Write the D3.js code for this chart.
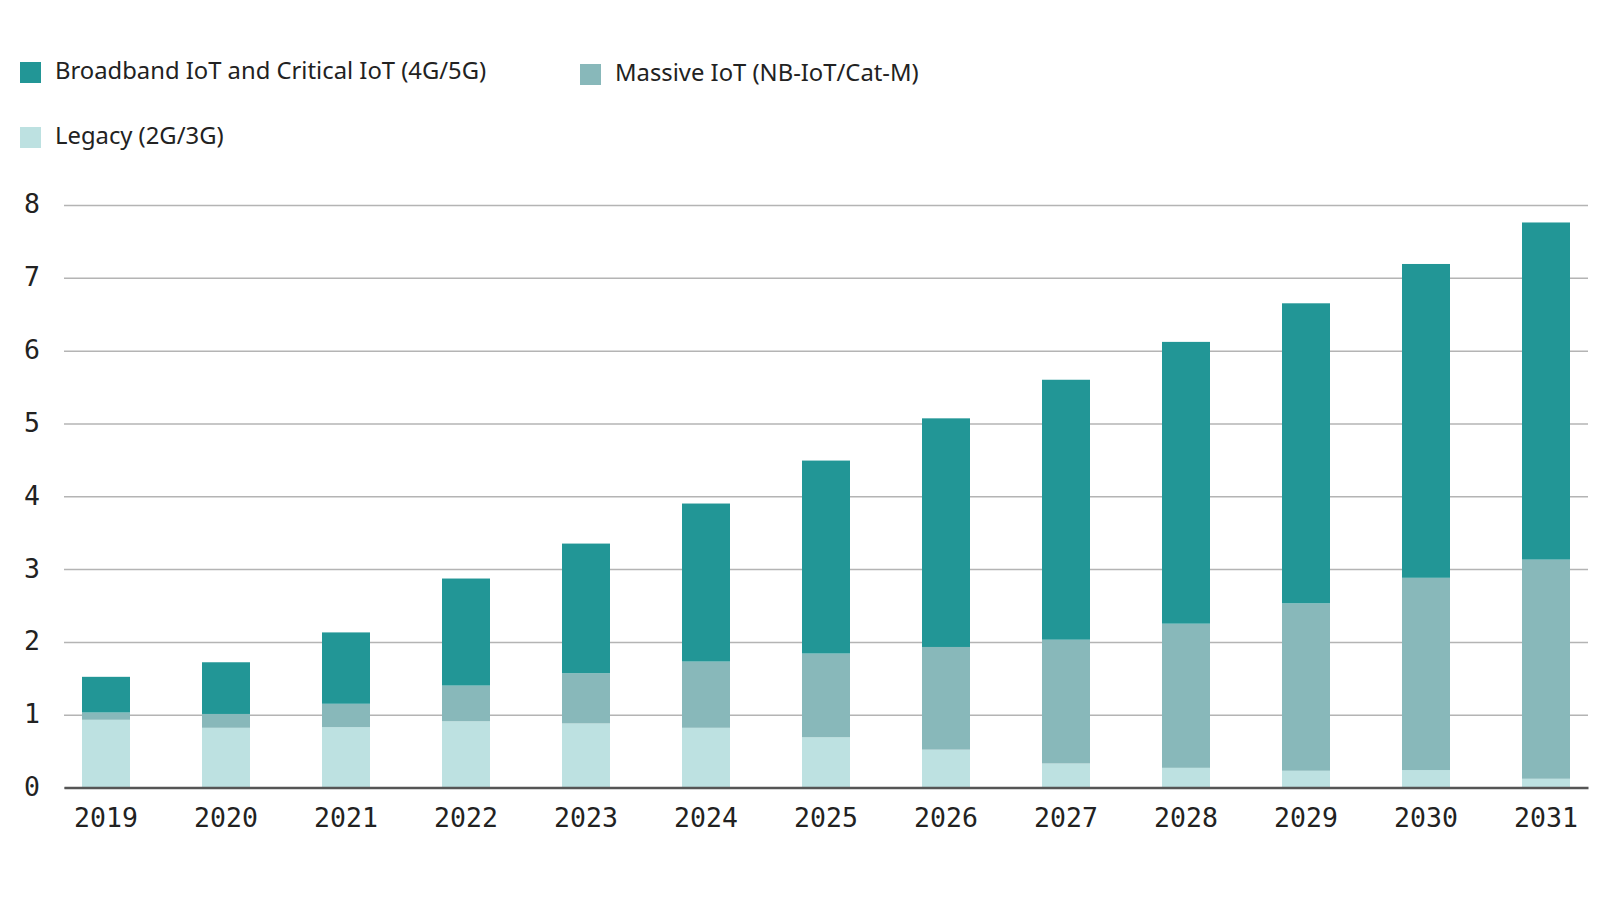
<!DOCTYPE html>
<html>
<head>
<meta charset="utf-8">
<script src="https://d3js.org/d3.v7.min.js"></script>
<style>
  body { margin: 0; background: #fff; }
  svg { display: block; }
</style>
</head>
<body>
<svg width="1600" height="900"></svg>
<script>
// IoT connections (billions)
var years = ["2019", "2020", "2021", "2022", "2023", "2024", "2025", "2026", "2027", "2028", "2029", "2030", "2031"];
var legacy    = [0.93, 0.82, 0.83, 0.91, 0.88, 0.82, 0.69, 0.52, 0.33, 0.27, 0.23, 0.24, 0.12];
var massive   = [0.10, 0.19, 0.32, 0.49, 0.69, 0.91, 1.15, 1.41, 1.70, 1.98, 2.30, 2.64, 3.01];
var broadband = [0.49, 0.71, 0.98, 1.47, 1.78, 2.17, 2.65, 3.14, 3.57, 3.87, 4.12, 4.31, 4.63];
var yTicks = [0, 1, 2, 3, 4, 5, 6, 7, 8];

var seriesNames = ["Legacy (2G/3G)", "Massive IoT (NB-IoT/Cat-M)", "Broadband IoT and Critical IoT (4G/5G)"];
var colors = {
  "Broadband IoT and Critical IoT (4G/5G)": "#229696",
  "Massive IoT (NB-IoT/Cat-M)": "#88b8ba",
  "Legacy (2G/3G)": "#bde1e1"
};

var table = years.map(function(y, i) {
  var row = { year: y };
  row[seriesNames[0]] = legacy[i];
  row[seriesNames[1]] = massive[i];
  row[seriesNames[2]] = broadband[i];
  return row;
});

var svg = d3.select("svg");

var x = d3.scaleBand()
    .domain(years)
    .range([64, 1588])
    .paddingInner(0.6)
    .paddingOuter(0.15);

var y = d3.scaleLinear()
    .domain([0, 8])
    .range([787.5, 205]);

// gridlines + y labels
var yAxis = svg.append("g")
    .attr("transform", "translate(64,0)")
    .call(d3.axisLeft(y).tickValues(yTicks).tickSize(-1524).tickPadding(24).tickFormat(d3.format("d")));
yAxis.select(".domain").remove();
yAxis.selectAll(".tick line")
    .attr("stroke", "#b4b4b4")
    .attr("stroke-width", 1.5);
yAxis.selectAll(".tick text")
    .attr("fill", "#222")
    .attr("font-family", "DejaVu Sans Mono")
    .attr("font-size", 26.5)
    .attr("dy", "0.3em");

// stacked bars
var stack = d3.stack().keys(seriesNames);
var layers = stack(table);

svg.append("g")
  .selectAll("g")
  .data(layers)
  .join("g")
    .attr("fill", function(d) { return colors[d.key]; })
  .selectAll("rect")
  .data(function(d) { return d; })
  .join("rect")
    .attr("x", function(d) { return x(d.data.year); })
    .attr("y", function(d) { return y(d[1]); })
    .attr("width", x.bandwidth())
    .attr("height", function(d) { return y(d[0]) - y(d[1]); });

// x axis
var xAxis = svg.append("g")
    .attr("transform", "translate(0," + y(0) + ")")
    .call(d3.axisBottom(x).tickSize(0).tickPadding(21));
xAxis.select(".domain")
    .attr("stroke", "#555")
    .attr("stroke-width", 2.5);
xAxis.selectAll(".tick text")
    .attr("fill", "#222")
    .attr("font-family", "DejaVu Sans Mono")
    .attr("font-size", 26.5);

// legend
var legendItems = [
  { name: seriesNames[2], x: 20, y: 62 },
  { name: seriesNames[1], x: 580, y: 64 },
  { name: seriesNames[0], x: 20, y: 127 }
];

var legend = svg.append("g")
  .selectAll("g")
  .data(legendItems)
  .join("g")
    .attr("transform", function(d) { return "translate(" + d.x + "," + d.y + ")"; });

legend.append("rect")
    .attr("width", 21)
    .attr("height", 21)
    .attr("fill", function(d) { return colors[d.name]; });

legend.append("text")
    .attr("x", 35)
    .attr("y", 10.5)
    .attr("dy", "0.28em")
    .attr("fill", "#222")
    .attr("font-family", "Noto Sans")
    .attr("font-size", 23.8)
    .text(function(d) { return d.name; });
</script>
</body>
</html>
